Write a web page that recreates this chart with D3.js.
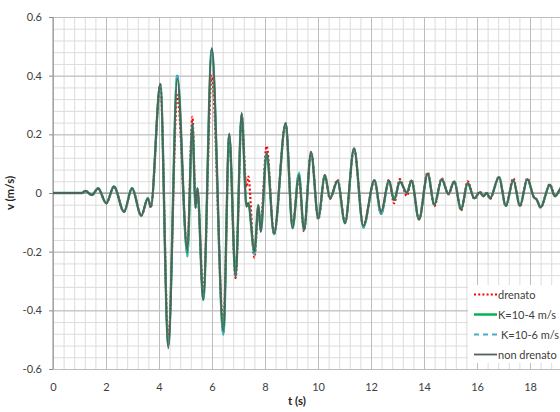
<!DOCTYPE html>
<html>
<head>
<meta charset="utf-8">
<script src="https://cdn.jsdelivr.net/npm/d3@7"></script>
<style>
  html, body { margin: 0; padding: 0; background: #fff; }
  svg { display: block; font-family: Lato, "Liberation Sans", sans-serif; }
</style>
</head>
<body>
<svg id="chart" width="560" height="412"></svg>
<script>
// Time instants (s) of the velocity record's turning points
const times = [0, 1.1, 1.22, 1.47, 1.70, 2.01, 2.30, 2.68, 2.98, 3.33, 3.58, 3.69,
  4.05, 4.35, 4.69, 5.07, 5.26, 5.38, 5.45, 5.67, 5.99, 6.43, 6.65, 6.89, 7.12,
  7.30, 7.37, 7.60, 7.75, 7.84, 8.06, 8.34, 8.78, 9.04, 9.28, 9.47, 9.74, 10.01,
  10.26, 10.45, 10.74, 11.02, 11.36, 11.71, 12.13, 12.38, 12.68, 12.87, 13.09,
  13.35, 13.53, 13.81, 14.14, 14.39, 14.67, 14.92, 15.14, 15.40, 15.65, 15.90,
  16.11, 16.24, 16.37, 16.49, 16.83, 17.09, 17.37, 17.62, 17.90, 18.15, 18.25,
  18.40, 18.75, 18.94, 19.25, 19.55, 20];

// Velocity (m/s), undrained response
const vNonDrenato = [0, 0, 0.007, -0.007, 0.016, -0.035, 0.022, -0.064, 0.016, -0.077, -0.018, -0.047,
  0.372, -0.53, 0.39, -0.195, 0.238, -0.052, 0.016, -0.363, 0.495, -0.47, 0.203, -0.285, 0.274,
  -0.047, -0.035, -0.2, -0.041, -0.132, 0.135, -0.137, 0.238, -0.12, 0.061, -0.126, 0.138, -0.086,
  0.061, -0.018, 0.041, -0.103, 0.152, -0.112, 0.044, -0.064, 0.042, -0.024, 0.039,
  0.001, 0.042, -0.09, 0.066, -0.04, 0.047, -0.003, 0.039, -0.056, 0.034, -0.018,
  0.002, -0.011, 0.0, -0.018, 0.054, -0.044, 0.044, -0.044, 0.047, -0.015, -0.022,
  -0.049, 0.028, -0.011, 0.025, -0.015, 0];

// Velocity (m/s), permeability K = 1e-4 m/s
const vK4 = [0, 0, 0.007, -0.007, 0.016, -0.035, 0.022, -0.064, 0.016, -0.077, -0.018, -0.047,
  0.37, -0.52, 0.40, -0.21, 0.235, -0.05, 0.016, -0.365, 0.49, -0.48, 0.2, -0.285, 0.27,
  -0.045, -0.035, -0.205, -0.041, -0.132, 0.135, -0.14, 0.238, -0.12, 0.066, -0.126, 0.138, -0.086,
  0.061, -0.018, 0.041, -0.103, 0.152, -0.115, 0.044, -0.07, 0.042, -0.024, 0.039,
  0.001, 0.042, -0.09, 0.066, -0.04, 0.047, -0.003, 0.039, -0.056, 0.034, -0.018,
  0.002, -0.011, 0.0, -0.018, 0.054, -0.044, 0.044, -0.044, 0.047, -0.015, -0.022,
  -0.049, 0.028, -0.011, 0.025, -0.015, 0];

// Velocity (m/s), permeability K = 1e-6 m/s
const vK6 = [0, 0, 0.007, -0.007, 0.016, -0.035, 0.022, -0.064, 0.016, -0.077, -0.018, -0.047,
  0.37, -0.52, 0.408, -0.217, 0.235, -0.05, 0.016, -0.365, 0.49, -0.484, 0.2, -0.285, 0.27,
  -0.045, -0.035, -0.21, -0.041, -0.132, 0.135, -0.142, 0.238, -0.12, 0.07, -0.126, 0.138, -0.086,
  0.061, -0.018, 0.041, -0.103, 0.152, -0.12, 0.044, -0.075, 0.042, -0.024, 0.039,
  0.001, 0.042, -0.09, 0.066, -0.04, 0.047, -0.003, 0.039, -0.056, 0.034, -0.018,
  0.002, -0.011, 0.0, -0.018, 0.054, -0.044, 0.044, -0.044, 0.047, -0.015, -0.022,
  -0.049, 0.028, -0.011, 0.025, -0.015, 0];

// Velocity (m/s), drained response
const vDrenato = [0, 0, 0.007, -0.007, 0.016, -0.035, 0.022, -0.064, 0.016, -0.077, -0.02, -0.05,
  0.37, -0.50, 0.334, -0.19, 0.26, -0.03, 0.0, -0.34, 0.40, -0.45, 0.19, -0.29, 0.26,
  0.02, 0.056, -0.22, -0.06, -0.10, 0.16, -0.14, 0.235, -0.11, 0.05, -0.13, 0.14, -0.09,
  0.06, -0.02, 0.045, -0.10, 0.15, -0.11, 0.04, -0.07, 0.045, -0.035, 0.047,
  -0.01, 0.045, -0.09, 0.07, -0.045, 0.05, -0.005, 0.04, -0.06, 0.04, -0.02,
  0.005, -0.01, 0.0, -0.02, 0.055, -0.045, 0.05, -0.045, 0.05, -0.015, -0.022,
  -0.05, 0.03, -0.01, 0.025, -0.015, 0];

const xTickLabels = [0, 2, 4, 6, 8, 10, 12, 14, 16, 18];
const yTickLabels = [-0.6, -0.4, -0.2, 0, 0.2, 0.4, 0.6];

const seriesNames = ["drenato", "K=10-4 m/s", "K=10-6 m/s", "non drenato"];
const seriesValues = [vDrenato, vK4, vK6, vNonDrenato];

const styles = [
  { color: "#ff0000", width: 2.2, dash: "2 2.2", cap: "butt" },
  { color: "#00b050", width: 2.4, dash: null, cap: "round" },
  { color: "#4bacc6", width: 1.8, dash: "5 4", cap: "butt" },
  { color: "#555f5c", width: 1.8, dash: null, cap: "round" }
];

const svg = d3.select("#chart");
const plotLeft = 53, plotTop = 17, plotBottom = 369, plotRight = 583;

const x = d3.scaleLinear().domain([0, 20]).range([plotLeft, plotRight]);
const y = d3.scaleLinear().domain([-0.6, 0.6]).range([plotBottom, plotTop]);

const minorX = d3.range(0, 20.001, 0.4).map(v => +v.toFixed(2));
const minorY = d3.range(-0.6, 0.6001, 0.04).map(v => +v.toFixed(2));
const majorX = d3.range(0, 20.001, 2);

// tick text with a plain hyphen for negatives
const fmtY = d => d === 0 ? "0" : d.toFixed(1);

// minor grid
svg.append("g")
  .attr("transform", `translate(0,${plotBottom})`)
  .call(d3.axisBottom(x).tickValues(minorX).tickSize(-(plotBottom - plotTop)).tickFormat(""))
  .call(g => g.select(".domain").remove())
  .call(g => g.selectAll("line").attr("stroke", "#dcdcdc"));
svg.append("g")
  .attr("transform", `translate(${plotLeft},0)`)
  .call(d3.axisLeft(y).tickValues(minorY).tickSize(-(plotRight - plotLeft)).tickFormat(""))
  .call(g => g.select(".domain").remove())
  .call(g => g.selectAll("line").attr("stroke", "#dcdcdc"));

// major grid
svg.append("g")
  .attr("transform", `translate(0,${plotBottom})`)
  .call(d3.axisBottom(x).tickValues(majorX).tickSize(-(plotBottom - plotTop)).tickFormat(""))
  .call(g => g.select(".domain").remove())
  .call(g => g.selectAll("line").attr("stroke", "#bdbdbd"));
svg.append("g")
  .attr("transform", `translate(${plotLeft},0)`)
  .call(d3.axisLeft(y).tickValues(yTickLabels).tickSize(-(plotRight - plotLeft)).tickFormat(""))
  .call(g => g.select(".domain").remove())
  .call(g => g.selectAll("line").attr("stroke", "#bdbdbd"));

// y axis with tick labels
svg.append("g")
  .attr("transform", `translate(${plotLeft},0)`)
  .call(d3.axisLeft(y).tickValues(yTickLabels).tickSize(4).tickPadding(7).tickFormat(fmtY))
  .call(g => g.select(".domain").attr("stroke", "#8c8c8c").attr("d", `M0,${plotTop}V${plotBottom}`))
  .call(g => g.selectAll("line").attr("stroke", "#8c8c8c"))
  .call(g => g.selectAll("text").attr("font-size", 11).attr("fill", "#404040")
    .attr("font-family", "Lato, sans-serif"));

// x tick labels at the bottom
svg.append("g")
  .attr("transform", `translate(0,${plotBottom})`)
  .call(d3.axisBottom(x).tickValues(xTickLabels).tickSize(0).tickPadding(14)
    .tickFormat(d3.format("d")))
  .call(g => g.select(".domain").remove())
  .call(g => g.selectAll("text").attr("font-size", 11).attr("fill", "#404040")
    .attr("font-family", "Lato, sans-serif"));

// horizontal axis through zero
svg.append("line")
  .attr("x1", plotLeft).attr("x2", plotRight)
  .attr("y1", y(0)).attr("y2", y(0))
  .attr("stroke", "#8c8c8c").attr("stroke-width", 1.2);

// series
svg.append("clipPath").attr("id", "plotClip")
  .append("rect").attr("x", plotLeft).attr("y", plotTop - 5)
  .attr("width", plotRight - plotLeft).attr("height", plotBottom - plotTop + 10);

const line = d3.line()
  .x(d => x(d[0]))
  .y(d => y(d[1]))
  .curve(d3.curveMonotoneX);

const plot = svg.append("g").attr("clip-path", "url(#plotClip)");
seriesValues.forEach((vals, i) => {
  const pts = times.map((t, k) => [t, vals[k]]);
  const s = styles[i];
  plot.append("path")
    .datum(pts)
    .attr("fill", "none")
    .attr("stroke", s.color)
    .attr("stroke-width", s.width)
    .attr("stroke-linecap", s.cap)
    .attr("stroke-linejoin", "round")
    .attr("stroke-dasharray", s.dash)
    .attr("d", line);
});

// axis titles
svg.append("text")
  .attr("x", 297).attr("y", 405)
  .attr("text-anchor", "middle")
  .attr("font-size", 11.5).attr("font-weight", "bold").attr("fill", "#262626")
  .text("t (s)");
svg.append("text")
  .attr("transform", `translate(14,${y(0)}) rotate(-90)`)
  .attr("text-anchor", "middle")
  .attr("font-size", 11.5).attr("font-weight", "bold").attr("fill", "#262626")
  .text("v (m/s)");

// legend
const legend = svg.append("g").attr("transform", "translate(468,285)");
legend.append("rect").attr("x", 0).attr("y", 0).attr("width", 100).attr("height", 78)
  .attr("fill", "#fff");
seriesNames.forEach((name, i) => {
  const s = styles[i];
  const cy = 9.5 + i * 20;
  legend.append("line")
    .attr("x1", 6).attr("x2", 29).attr("y1", cy).attr("y2", cy)
    .attr("stroke", s.color)
    .attr("stroke-width", s.width)
    .attr("stroke-dasharray", s.dash);
  legend.append("text")
    .attr("x", i === 2 ? 33 : 30).attr("y", cy + 4)
    .attr("font-size", 11).attr("fill", "#404040")
    .attr("font-family", "Lato, sans-serif")
    .text(name);
});
</script>
</body>
</html>
